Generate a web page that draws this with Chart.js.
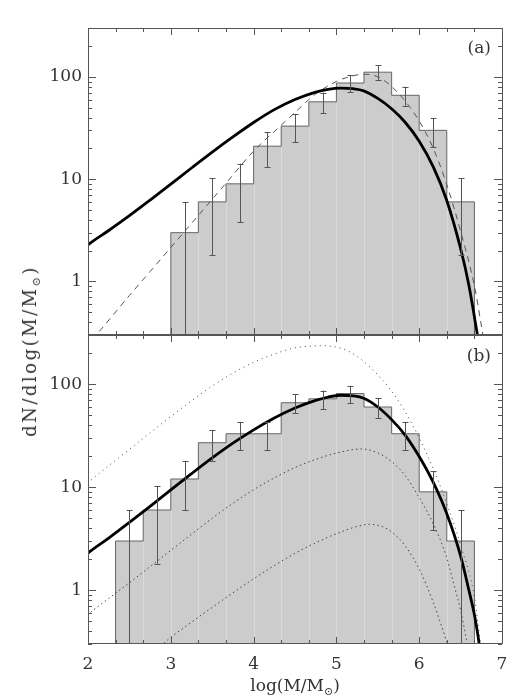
<!DOCTYPE html>
<html lang="en">
<head>
<meta charset="UTF-8">
<title>dN/dlog(M/M⊙) – panels (a) and (b)</title>
<script src="https://cdn.jsdelivr.net/npm/chart.js"></script>
<style>
  body { margin: 0; background: #fff; font-family: "DejaVu Serif", serif; }
  #wrap { position: relative; width: 527px; height: 700px; }
  canvas { position: absolute; left: 0; }
  #topChart { top: 0; }
  #botChart { top: 305px; }
  .lbl { position: absolute; color: #333; font-size: 17px; white-space: nowrap; line-height: 1; }
  .lbl sub { font-size: 11px; vertical-align: -4px; line-height: 0; }
  #ytitle { left: 30px; top: 351px; transform: translate(-50%, -50%) rotate(-90deg); font-size: 18px; letter-spacing: 2.5px; }
  #xtitle { left: 295px; top: 685px; transform: translate(-50%, -50%); }
  #la { right: 36px; top: 47px; transform: translateY(-50%); }
  #lb { right: 36px; top: 355px; transform: translateY(-50%); }
</style>
</head>
<body>
<div id="wrap">
  <canvas id="topChart" width="527" height="360"></canvas>
  <canvas id="botChart" width="527" height="395"></canvas>
  <div class="lbl" id="ytitle">dN/dlog(M/M<sub>⊙</sub>)</div>
  <div class="lbl" id="xtitle">log(M/M<sub>⊙</sub>)</div>
  <div class="lbl" id="la">(a)</div>
  <div class="lbl" id="lb">(b)</div>
</div>

<script>
// ---- data ----
const YMIN = 0.3, YMAX = 300;
const xTicks = [2, 3, 4, 5, 6, 7];
const yTicks = [1, 10, 100];

// panel (a): histogram (bin edges, dN/dlogM, error)
const edgesA  = [3, 3.333, 3.667, 4, 4.333, 4.667, 5, 5.333, 5.667, 6, 6.333, 6.667];
const countsA = [3, 6, 9, 21, 33, 57, 87, 111, 66, 30, 6];
const errA    = [3, 4.2, 5.2, 7.9, 10, 13.1, 16.2, 18.2, 14.1, 9.5, 4.2];

// panel (a): thick curve
const fitAx = [1.95, 2.0, 2.25, 2.5, 2.75, 3.0, 3.25, 3.5, 3.75, 4.0, 4.25, 4.5, 4.75, 4.9, 5.05, 5.2, 5.33, 5.5, 5.67, 5.83, 6.0, 6.17, 6.33, 6.5, 6.6, 6.7, 6.75];
const fitAy = [2.1, 2.28, 3.15, 4.4, 6.25, 8.95, 12.85, 18.4, 25.9, 35.8, 47.8, 60, 71, 75.5, 77.5, 76.5, 73, 61.5, 48.5, 36, 23.5, 13.2, 6.3, 2.1, 0.92, 0.31, 0.17];

// panel (a): dashed curve
const dashAx = [2.05, 2.1, 2.5, 2.75, 3.0, 3.33, 3.67, 4.0, 4.33, 4.5, 4.75, 5.0, 5.17, 5.33, 5.5, 5.67, 5.83, 6.0, 6.17, 6.33, 6.5, 6.67, 6.77, 6.8];
const dashAy = [0.27, 0.3, 0.73, 1.25, 2.15, 4.4, 9.2, 18.8, 33.5, 45, 68, 90, 101, 106, 100, 80, 58, 37, 20, 9.0, 3.1, 0.88, 0.3, 0.22];

// panel (b): histogram
const edgesB  = [2.333, 2.667, 3, 3.333, 3.667, 4, 4.333, 4.667, 5, 5.333, 5.667, 6, 6.333, 6.667];
const countsB = [3, 6, 12, 27, 33, 33, 66, 72, 81, 60, 33, 9, 3];
const errB    = [3, 4.2, 6, 9, 10, 10, 14.1, 14.7, 15.6, 13.4, 10, 5.2, 3];

// panel (b): thick curve
const fitBx = [1.95, 2.0, 2.25, 2.5, 2.75, 3.0, 3.25, 3.5, 3.75, 4.0, 4.25, 4.5, 4.75, 4.9, 5.05, 5.2, 5.33, 5.5, 5.67, 5.83, 6.0, 6.17, 6.33, 6.5, 6.6, 6.67, 6.71, 6.75];
const fitBy = [2.1, 2.29, 3.2, 4.54, 6.5, 9.4, 13.5, 19.2, 26.7, 36, 46.9, 58.6, 69.5, 75, 78, 77, 73, 60, 45, 32, 19.8, 11.1, 5.6, 2.15, 1.0, 0.56, 0.36, 0.22];

// panel (b): dotted curves (upper, middle, lower)
const dotUx = [1.95, 2.0, 2.25, 2.5, 2.75, 3.0, 3.25, 3.5, 3.75, 4.0, 4.25, 4.5, 4.65, 4.8, 4.9, 5.0, 5.17, 5.33, 5.5, 5.67, 5.83, 6.0, 6.17, 6.33, 6.5, 6.67, 6.74, 6.77];
const dotUy = [10, 11, 16.1, 23.3, 33.7, 48.5, 69, 96, 128, 163, 196, 225, 233, 236, 234.5, 229, 204, 166, 123, 85, 54, 30, 15.1, 7.0, 2.75, 0.83, 0.3, 0.2];

const dotMx = [1.95, 2.0, 2.25, 2.5, 2.75, 3.0, 3.25, 3.5, 3.75, 4.0, 4.25, 4.5, 4.75, 5.0, 5.3, 5.5, 5.67, 5.83, 6.0, 6.17, 6.33, 6.43, 6.5, 6.58, 6.62];
const dotMy = [0.53, 0.58, 0.83, 1.18, 1.69, 2.43, 3.49, 4.99, 6.97, 9.44, 12.3, 15.5, 18.6, 21.4, 23.5, 21.5, 17.6, 13, 7.9, 4.4, 2.1, 1.05, 0.64, 0.3, 0.2];

const dotLx = [2.85, 2.91, 3.19, 3.5, 4.0, 4.25, 4.5, 4.75, 5.0, 5.25, 5.4, 5.55, 5.67, 5.83, 6.0, 6.17, 6.33, 6.36];
const dotLy = [0.26, 0.3, 0.45, 0.68, 1.29, 1.73, 2.28, 2.88, 3.53, 4.15, 4.35, 4.15, 3.65, 2.7, 1.6, 0.76, 0.32, 0.27];

// ---- helpers ----
function pts(xs, ys) { return xs.map((x, i) => ({ x: x, y: ys[i] })); }

function histPts(edges, counts) {
    const p = [{ x: edges[0], y: YMIN }];
    counts.forEach((c, i) => p.push({ x: edges[i], y: c }));
    p.push({ x: edges[edges.length - 1], y: counts[counts.length - 1] });
    p.push({ x: edges[edges.length - 1], y: YMIN });
    return p;
}

function curve(data, color, width, dash) {
    return {
        data: data, borderColor: color, borderWidth: width, borderDash: dash || [],
        pointRadius: 0, cubicInterpolationMode: 'monotone', fill: false
    };
}

// frame, inward ticks, error bars and faint bin dividers
const framePlugin = {
    id: 'frame',
    afterDatasetDraw(chart, args, opts) {
        if (!chart.data.datasets[args.index].isHist) return;
        const ctx = chart.ctx, x = chart.scales.x, y = chart.scales.y, a = chart.chartArea;
        ctx.save();
        ctx.strokeStyle = '#dadada';
        ctx.lineWidth = 1;
        for (let i = 1; i < opts.edges.length - 1; i++) {
            const px = Math.round(x.getPixelForValue(opts.edges[i])) + 0.5;
            const top = y.getPixelForValue(Math.min(opts.counts[i - 1], opts.counts[i])) + 1.5;
            ctx.beginPath(); ctx.moveTo(px, a.bottom - 1); ctx.lineTo(px, top); ctx.stroke();
        }
        ctx.restore();
    },
    afterDatasetsDraw(chart, args, opts) {
        const ctx = chart.ctx, x = chart.scales.x, y = chart.scales.y, a = chart.chartArea;
        ctx.save();
        ctx.beginPath(); ctx.rect(a.left, a.top, a.right - a.left, a.bottom - a.top); ctx.clip();
        ctx.strokeStyle = '#555';
        ctx.lineWidth = 1;
        opts.counts.forEach((c, i) => {
            const px = Math.round(x.getPixelForValue((opts.edges[i] + opts.edges[i + 1]) / 2)) + 0.5;
            const hi = y.getPixelForValue(c + opts.errs[i]);
            const lo = c - opts.errs[i] > YMIN ? y.getPixelForValue(c - opts.errs[i]) : a.bottom;
            ctx.beginPath();
            ctx.moveTo(px, lo); ctx.lineTo(px, hi);
            ctx.moveTo(px - 3, Math.round(hi) + 0.5); ctx.lineTo(px + 3, Math.round(hi) + 0.5);
            if (lo < a.bottom) { ctx.moveTo(px - 3, Math.round(lo) + 0.5); ctx.lineTo(px + 3, Math.round(lo) + 0.5); }
            ctx.stroke();
        });
        ctx.restore();
    },
    afterDraw(chart) {
        const ctx = chart.ctx, x = chart.scales.x, y = chart.scales.y, a = chart.chartArea;
        ctx.save();
        ctx.strokeStyle = '#555';
        ctx.lineWidth = 1;
        ctx.beginPath();
        // x ticks every 1/3, longer at integers
        for (let k = 0; k <= 15; k++) {
            const px = Math.round(x.getPixelForValue(2 + k / 3)) + 0.5;
            const len = k % 3 === 0 ? 7 : 4;
            ctx.moveTo(px, a.bottom); ctx.lineTo(px, a.bottom - len);
            ctx.moveTo(px, a.top); ctx.lineTo(px, a.top + len);
        }
        // y ticks, decades and 2..9
        for (let d = -1; d <= 2; d++) {
            for (let m = 1; m <= 9; m++) {
                const v = m * Math.pow(10, d);
                if (v < YMIN || v > YMAX) continue;
                const py = Math.round(y.getPixelForValue(v)) + 0.5;
                const len = m === 1 ? 8 : 4;
                ctx.moveTo(a.left, py); ctx.lineTo(a.left + len, py);
                ctx.moveTo(a.right, py); ctx.lineTo(a.right - len, py);
            }
        }
        ctx.stroke();
        ctx.strokeRect(Math.round(a.left) + 0.5, Math.round(a.top) + 0.5,
                       Math.round(a.right - a.left), Math.round(a.bottom - a.top) - 1);
        ctx.restore();
    }
};

const tickFont = { family: 'DejaVu Serif', size: 17 };

function makeChart(id, datasets, frameOpts, showX, padTop, padBottom) {
    return new Chart(document.getElementById(id), {
        type: 'line',
        data: { datasets: datasets },
        options: {
            responsive: false,
            animation: false,
            layout: { padding: { top: padTop, right: 25, bottom: padBottom, left: 0 } },
            scales: {
                x: {
                    type: 'linear', min: 2, max: 7, display: showX,
                    grid: { display: false, drawTicks: false },
                    border: { display: false },
                    afterBuildTicks: s => { s.ticks = xTicks.map(v => ({ value: v })); },
                    afterFit: s => { s.height = showX ? 56 : 0; },
                    ticks: { font: tickFont, color: '#333', padding: 10, autoSkip: false, maxRotation: 0,
                             callback: v => String(v) }
                },
                y: {
                    type: 'logarithmic', min: YMIN, max: YMAX,
                    grid: { display: false, drawTicks: false },
                    border: { display: false },
                    afterBuildTicks: s => { s.ticks = yTicks.map(v => ({ value: v })); },
                    afterFit: s => { s.width = 88; },
                    ticks: { font: tickFont, color: '#333', padding: 6, callback: v => String(v) }
                }
            },
            plugins: { legend: { display: false }, tooltip: { enabled: false }, frame: frameOpts }
        },
        plugins: [framePlugin]
    });
}

function histogram(edges, counts) {
    return {
        data: histPts(edges, counts), isHist: true, stepped: 'before',
        borderColor: '#666', borderWidth: 1, backgroundColor: '#cccccc',
        fill: 'start', pointRadius: 0
    };
}

makeChart('topChart', [
    curve(pts(fitAx, fitAy), '#000', 2.8),
    curve(pts(dashAx, dashAy), '#555', 1, [6, 5]),
    histogram(edgesA, countsA)
], { edges: edgesA, counts: countsA, errs: errA }, false, 28, 25);

makeChart('botChart', [
    curve(pts(fitBx, fitBy), '#000', 2.8),
    curve(pts(dotUx, dotUy), '#444', 1, [1, 4]),
    curve(pts(dotMx, dotMy), '#444', 1, [1.5, 3]),
    curve(pts(dotLx, dotLy), '#444', 1, [1.5, 3]),
    histogram(edgesB, countsB)
], { edges: edgesB, counts: countsB, errs: errB }, true, 30, 0);
</script>
</body>
</html>
